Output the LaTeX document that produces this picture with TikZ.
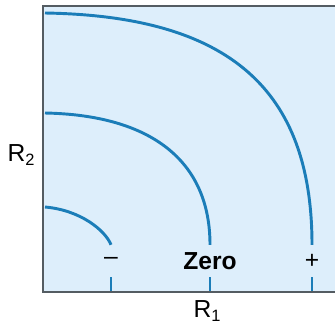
\documentclass[tikz,border=0pt]{standalone}
\usepackage{fontspec}
\setmainfont{Liberation Sans}
\definecolor{panel}{HTML}{DDEEFB}
\definecolor{curve}{HTML}{1B7DB8}
\definecolor{axisgray}{HTML}{545C62}
\newcommand{\sublab}[1]{\raisebox{-0.35ex}{\fontsize{14}{14}\selectfont #1}}

\begin{document}
\begin{tikzpicture}[x=0.03cm, y=-0.03cm,
    curv/.style={draw=curve, line width=2.5pt},
    lbl/.style={minimum height=0.96cm, inner sep=0pt, font=\fontsize{21}{21}\selectfont},
    axlab/.style={inner sep=0pt, font=\fontsize{21}{21}\selectfont},
]
\useasboundingbox (0,0) rectangle (335,326);
% Panel
\fill[panel] (43,6) rectangle (335,292);
\draw[axisgray, line width=1.4pt] (335,6) -- (43,6) -- (43,292) -- (335,292);
\coordinate (ax) at (0,291);

% Labels on the curves
\node[lbl] (neg) at (111,261) {--};
\node[lbl, font=\fontsize{21}{21}\selectfont\bfseries] (zero) at (210,261) {Zero};
\node[lbl] (pos) at (312,261) {+};

% Axis labels
\node[axlab] (r1lab) at (207,311) {R\sublab{1}};
\node[axlab] (r2lab) at (21,155) {R\sublab{2}};

% Curves
\draw[curv] (45,207) .. controls (80,210) and (105,230) .. (neg.north);
\draw[curv] (45,113) .. controls (150,115) and (210,160) .. (zero.north);
\draw[curv] (45,13) .. controls (230,16) and (312,90) .. (pos.north);
\draw[curv] (neg.south) -- (neg.south |- ax);
\draw[curv] (zero.south) -- (zero.south |- ax);
\draw[curv] (pos.south) -- (pos.south |- ax);
\end{tikzpicture}
\end{document}
